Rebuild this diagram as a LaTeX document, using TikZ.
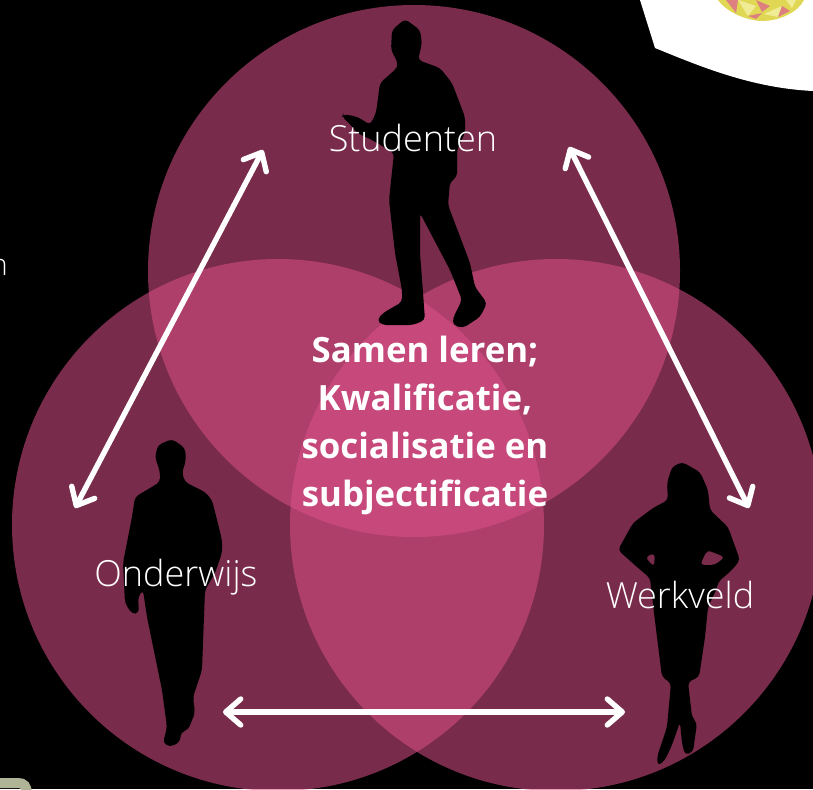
\documentclass[tikz,border=0pt]{standalone}
\usepackage{fontspec}
\usetikzlibrary{arrows.meta}
\newfontfamily\oslight{Open Sans Light}
\newfontfamily\osbold{Open Sans Bold}
\definecolor{venn}{RGB}{220,80,135}
\definecolor{logoy}{RGB}{224,216,84}
\definecolor{logop}{RGB}{222,128,128}
\definecolor{logol}{RGB}{240,236,150}
\definecolor{frag}{RGB}{176,180,150}
\tikzset{
  vennc/.style={fill=venn,fill opacity=.55,draw=none},
  sil/.style={fill=black,draw=none,rounded corners=4pt,even odd rule},
  lab/.style={text=white,font=\oslight\fontsize{36}{36}\selectfont,inner sep=0pt,anchor=base},
  mid/.style={text=white,font=\osbold\fontsize{34.8}{48}\selectfont,inner sep=0pt,align=center},
  dbl/.style={draw=white,line width=5.4pt,line cap=round,{Straight Barb[length=15pt,width=26pt,line width=5.4pt,round]}-{Straight Barb[length=15pt,width=26pt,line width=5.4pt,round]}}
}
\begin{document}
\begin{tikzpicture}[x=1pt,y=-1pt]
\useasboundingbox (0,0) rectangle (813,789);
\clip (0,0) rectangle (813,789);
\fill[black] (0,0) rectangle (813,789);
% white corner shape and logo
\fill[white] (640,0) -- (655,48) .. controls (697,65) and (750,88) .. (813,91) -- (813,0) -- cycle;
\fill[logoy] (718,0) .. controls (728,14) and (750,21) .. (762,21) .. controls (780,21) and (798,12) .. (804,0) -- cycle;
\fill[logop] (726,0) -- (736,13) -- (738,0) -- cycle;
\fill[logol] (738,0) -- (748,16) -- (756,6) -- cycle;
\fill[logop] (756,0) -- (762,12) -- (770,6) -- cycle;
\fill[logop] (748,16) -- (756,19) -- (762,13) -- cycle;
\fill[logol] (764,14) -- (782,6) -- (778,17) -- cycle;
\fill[logop] (782,6) -- (778,17) -- (790,11) -- cycle;
\fill[logol] (786,0) -- (796,0) -- (792,8) -- cycle;
% fragments at left edge
\draw[line width=10pt,color=frag,line cap=round] (-5,783) -- (18,783) .. controls (24,783) and (27,786) .. (27,795);
\node[text=white,font=\oslight\fontsize{30}{30}\selectfont,inner sep=0pt,anchor=base east] (fragn) at (8,275) {n};
% circles
\fill[vennc] (414,271) circle[radius=266];
\fill[vennc] (278,525) circle[radius=266];
\fill[vennc] (556,525) circle[radius=266];
% student
\fill[sil] (405,19) -- (420,30) -- (422,43) -- (418,60) -- (440,68) -- (452,83) -- (465,117) -- (465,133) -- (457,150) -- (457,177) -- (450,182) -- (448,205) -- (470,263) -- (475,287) -- (487,303) -- (480,317) -- (463,328) -- (453,325) -- (453,318) -- (462,300) -- (450,270) -- (420,213) -- (420,253) -- (423,293) -- (425,320) -- (413,325) -- (382,325) -- (377,320) -- (383,313) -- (402,302) -- (402,290) -- (395,253) -- (389,200) -- (394,153) -- (372,140) -- (357,133) -- (350,124) -- (342,117) -- (343,114) -- (358,117) -- (370,125) -- (376,113) -- (380,83) -- (397,68) -- (398,63) -- (391,50) -- (392,30) -- cycle;
% teacher
\fill[sil] (172,439) -- (185,448) -- (186,460) -- (182,473) -- (185,482) -- (205,492) -- (212,500) -- (222,540) -- (222,553) -- (215,573) -- (205,590) -- (203,643) -- (202,670) -- (193,697) -- (195,713) -- (188,730) -- (181,732) -- (180,742) -- (170,747) -- (163,743) -- (167,727) -- (162,690) -- (147,617) -- (143,590) -- (138,597) -- (139,613) -- (132,614) -- (125,603) -- (123,563) -- (132,517) -- (135,497) -- (160,482) -- (160,472) -- (155,457) -- (158,445) -- cycle;
% professional
\fill[sil] (682,462) -- (700,472) -- (708,490) -- (710,510) -- (728,527) -- (740,560) -- (732,570) -- (718,582) -- (717,588) -- (708,607) -- (705,637) -- (699,677) -- (688,682) -- (692,717) -- (697,723) -- (693,752) -- (685,755) -- (682,743) -- (680,722) -- (672,745) -- (665,760) -- (658,766) -- (657,757) -- (667,727) -- (671,683) -- (662,677) -- (654,613) -- (650,578) -- (637,567) -- (618,550) -- (633,523) -- (653,508) -- (668,500) -- (667,483) -- (672,467) -- cycle
 (645,557) -- (655,553) -- (654,567) -- cycle
 (700,565) -- (707,550) -- (725,557) -- (715,565) -- cycle;
% labels
\node[lab] (stud) at (413,151) {Studenten};
\node[lab] (ond) at (176,586) {Onderwijs};
\node[lab] (werk) at (680,608) {Werkveld};
\node[mid] (centre) at (425,425) {Samen leren;\\Kwalificatie,\\socialisatie en\\subjectificatie};
% arrows
\coordinate (a1) at (263,150);
\coordinate (a2) at (75,508);
\coordinate (b1) at (569,147);
\coordinate (b2) at (749,508);
\coordinate (c1) at (223,712);
\coordinate (c2) at (625,712);
\draw[dbl] (a1) -- (a2);
\draw[dbl] (b1) -- (b2);
\draw[dbl] (c1) -- (c2);
\end{tikzpicture}
\end{document}
